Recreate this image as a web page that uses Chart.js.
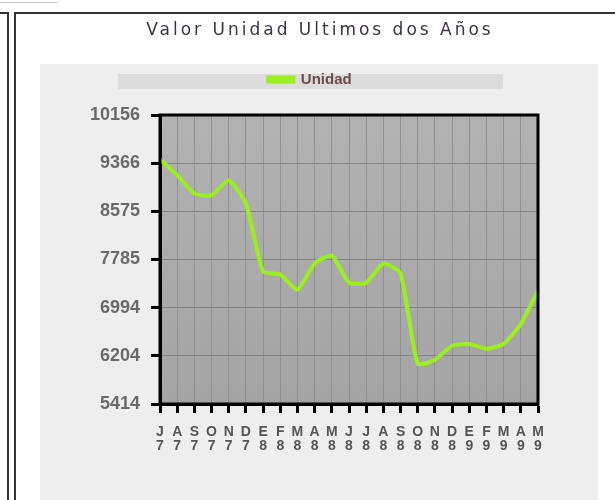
<!DOCTYPE html>
<html>
<head>
<meta charset="utf-8">
<script src="https://cdn.jsdelivr.net/npm/chart.js@4/dist/chart.umd.min.js"></script>
<style>
    body { margin: 0; background: #fff; }
    #wrap { position: relative; width: 615px; height: 500px; overflow: hidden; }
    #title {
        position: absolute; left: 120px; width: 400px; top: 19px;
        text-align: center; font-family: "DejaVu Sans", Verdana, sans-serif;
        font-size: 17px; letter-spacing: 3px; color: #3d3345;
    }
    canvas { position: absolute; left: 0; top: 0; }
</style>
</head>
<body>
<div id="wrap">
    <canvas id="chart" width="615" height="500"></canvas>
    <div id="title">Valor Unidad Ultimos dos Años</div>
</div>
<script>
// months Jul 2007 - May 2009 (Spanish initials, year digit underneath)
const months = ['J','A','S','O','N','D','E','F','M','A','M','J','J','A','S','O','N','D','E','F','M','A','M'];
const years  = ['7','7','7','7','7','7','8','8','8','8','8','8','8','8','8','8','8','8','9','9','9','9','9'];
const unidad = [9420, 9170, 8870, 8840, 9085, 8705, 7590, 7540, 7290, 7720, 7850, 7405,
                7405, 7720, 7555, 6075, 6140, 6370, 6400, 6320, 6400, 6730, 7275];
const yTickLabels = [5414, 6204, 6994, 7785, 8575, 9366, 10156];

const labels = months.map((m, i) => [m, years[i]]);

// page frame, grey panel, legend strip, plot background
const backdrop = {
    id: 'backdrop',
    beforeLayout(chart) {
        // leave a gap under the legend strip
        const lg = chart.legend;
        if (lg && !lg._padded) {
            const fit = lg.fit.bind(lg);
            lg.fit = function () { fit(); this.height += 18; };
            lg._padded = true;
        }
    },
    beforeDraw(chart) {
        const ctx = chart.ctx;
        const a = chart.chartArea;
        ctx.save();
        ctx.fillStyle = '#fff';
        ctx.fillRect(0, 0, 615, 500);
        ctx.strokeStyle = '#c8c8c8';
        ctx.lineWidth = 1;
        ctx.beginPath(); ctx.moveTo(0, 2.5); ctx.lineTo(58, 2.5); ctx.stroke();
        ctx.strokeStyle = '#333';
        ctx.lineWidth = 2;
        ctx.beginPath(); ctx.moveTo(0, 13); ctx.lineTo(8, 13); ctx.lineTo(8, 500); ctx.stroke();
        ctx.beginPath(); ctx.moveTo(615, 13); ctx.lineTo(15, 13); ctx.lineTo(15, 500); ctx.stroke();
        ctx.fillStyle = '#eeeeee';
        ctx.fillRect(40, 64, 558, 436);
        ctx.fillStyle = '#dcdcdc';
        ctx.fillRect(118, 74, 385, 15);
        const g = ctx.createLinearGradient(0, a.top, 0, a.bottom);
        g.addColorStop(0, '#b2b2b2');
        g.addColorStop(1, '#a4a4a4');
        ctx.fillStyle = g;
        ctx.fillRect(a.left, a.top, a.right - a.left, a.bottom - a.top);
        ctx.restore();
    },
    afterDatasetsDraw(chart) {
        const ctx = chart.ctx;
        const a = chart.chartArea;
        ctx.save();
        ctx.strokeStyle = '#000';
        ctx.lineWidth = 3;
        ctx.strokeRect(a.left, a.top, a.right - a.left, a.bottom - a.top);
        ctx.restore();
    }
};

new Chart(document.getElementById('chart'), {
    type: 'line',
    data: {
        labels: labels,
        datasets: [{
            label: 'Unidad',
            data: unidad,
            borderColor: '#9bef1f',
            backgroundColor: '#9bef1f',
            borderWidth: 4,
            tension: 0.18,
            pointRadius: 0,
            fill: false
        }]
    },
    options: {
        responsive: false,
        animation: false,
        layout: { padding: { left: 82, right: 77, top: 66, bottom: 35 } },
        plugins: {
            title: { display: false },
            tooltip: { enabled: false },
            legend: {
                labels: {
                    boxWidth: 25, boxHeight: 4,
                    color: '#6b4b50',
                    font: { family: 'Arial, "Liberation Sans"', size: 15, weight: 'bold' },
                    padding: 6
                }
            }
        },
        scales: {
            x: {
                offset: false,
                grid: { color: '#909090', lineWidth: 1, tickColor: '#000', tickLength: 9, tickWidth: 3 },
                border: { color: '#000', width: 3 },
                ticks: {
                    color: '#555',
                    autoSkip: false,
                    maxRotation: 0,
                    padding: 12,
                    font: { family: 'Arial, "Liberation Sans"', size: 14, weight: 'bold', lineHeight: 1.0 }
                }
            },
            y: {
                min: yTickLabels[0],
                max: yTickLabels[yTickLabels.length - 1],
                afterBuildTicks(scale) {
                    const t = [];
                    yTickLabels.forEach((v, i) => {
                        t.push({ value: v });
                        if (i < yTickLabels.length - 1) t.push({ value: (v + yTickLabels[i + 1]) / 2 });
                    });
                    scale.ticks = t;
                },
                afterFit(scale) { scale.width = 78; },
                grid: {
                    color: (c) => yTickLabels.includes(c.tick && c.tick.value) ? '#858585' : 'rgba(0,0,0,0)',
                    tickColor: '#000', tickLength: 9, tickWidth: 3
                },
                border: { color: '#000', width: 3 },
                ticks: {
                    color: '#6a6a6a',
                    padding: 11,
                    font: { family: 'Arial, "Liberation Sans"', size: 18, weight: 'bold' },
                    callback: (v) => yTickLabels.includes(v) ? String(v) : ''
                }
            }
        }
    },
    plugins: [backdrop]
});
</script>
</body>
</html>
